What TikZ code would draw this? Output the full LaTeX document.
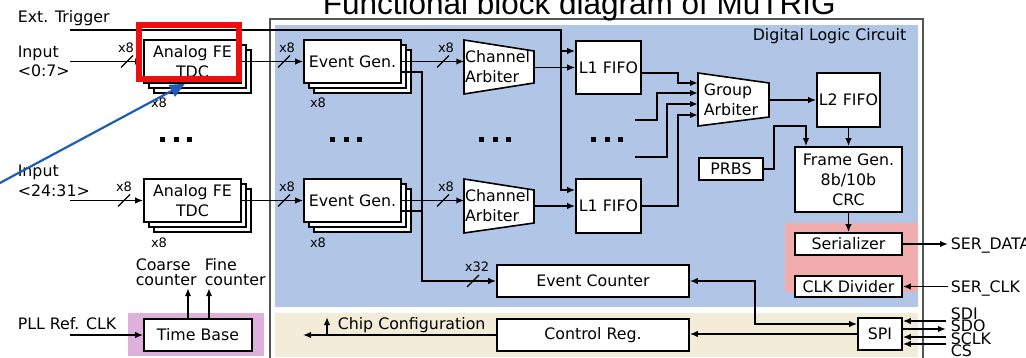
\documentclass[tikz,border=0pt]{standalone}
\usepackage{fontspec}
\setmainfont{DejaVu Sans}
\newfontfamily\titlefont{Liberation Sans}
\usetikzlibrary{arrows.meta}
\definecolor{dlcblue}{RGB}{177,197,230}
\definecolor{cfgbeige}{RGB}{242,236,217}
\definecolor{serpink}{RGB}{241,173,173}
\definecolor{tbpurple}{RGB}{222,177,218}
\definecolor{hlred}{RGB}{238,16,16}
\definecolor{annblue}{RGB}{30,92,184}
\definecolor{framegray}{RGB}{85,85,85}
\tikzset{
  box/.style={draw, fill=white, inner sep=0pt, align=center},
  stk/.style={box, minimum width=97pt, minimum height=43pt},
  lbl/.style={anchor=base west, inner sep=0pt},
  sig/.style={anchor=west, inner sep=2pt, text height=11.5pt, text depth=0pt},
  mult/.style={font=\fontsize{13}{15}\selectfont, inner sep=0pt, anchor=base},
  slash/.style={line width=1.2pt},
  trap/.style={draw, fill=white, line join=miter},
}
\begin{document}
\begin{tikzpicture}[x=1pt,y=-1pt,line width=1.6pt,>={Latex[length=8pt,width=6.5pt]},font=\fontsize{15.8}{19.8}\selectfont]
\useasboundingbox (0,0) rectangle (1026,358);
\clip (0,0) rectangle (1026,358);
\fill[white] (0,0) rectangle (1026,358);
% regions
\draw[draw=framegray, line width=1.5pt, fill=white] (270,19) rectangle (923,364);
\fill[dlcblue] (275,25) rectangle (918,307);
\fill[cfgbeige] (275,313) rectangle (918,357);
\fill[serpink] (785,223) rectangle (918,292);
\fill[tbpurple] (128,313) rectangle (264,356);
\node[anchor=base east, inner sep=0pt] (dlc) at (907,41) {Digital Logic Circuit};

% stacked boxes
\node[stk] (afe1c) at (202.5,71.5) {};
\node[stk] (afe1b) at (197.5,66.5) {};
\node[stk] (afe1) at (192.5,61.5) {Analog FE\\TDC};
\node[stk] (afe2c) at (202.5,210.5) {};
\node[stk] (afe2b) at (197.5,205.5) {};
\node[stk] (afe2) at (192.5,200.5) {Analog FE\\TDC};
\node[stk] (eg1c) at (362.5,71.5) {};
\node[stk] (eg1b) at (357.5,66.5) {};
\node[stk] (eg1) at (352.5,61.5) {Event Gen.};
\node[stk] (eg2c) at (362.5,210.5) {};
\node[stk] (eg2b) at (357.5,205.5) {};
\node[stk] (eg2) at (352.5,200.5) {Event Gen.};

% trapezoids
\draw[trap] (464,40) -- (534,51) -- (534,83) -- (464,94) -- cycle;
\node[inner sep=0pt, align=left] (cha1) at (497.5,67) {Channel\\Arbiter};
\draw[trap] (464,179) -- (534,190) -- (534,223) -- (464,233) -- cycle;
\node[inner sep=0pt, align=left] (cha2) at (497.5,206) {Channel\\Arbiter};
\draw[trap] (698,73) -- (769,83) -- (769,117) -- (698,126) -- cycle;
\node[inner sep=0pt, align=left] (ga) at (731,99.5) {Group\\Arbiter};
\coordinate (cha1e) at (534,67.5);
\coordinate (cha2e) at (534,206);
\coordinate (gain1) at (698,83);
\coordinate (gain2) at (698,93);
\coordinate (gain3) at (698,104);
\coordinate (gain4) at (698,115);
\coordinate (gaout) at (769,100);

% other boxes
\node[box, minimum width=65pt, minimum height=53pt] (l1a) at (608.5,67.5) {L1 FIFO};
\node[box, minimum width=65pt, minimum height=54pt] (l1b) at (608.5,206) {L1 FIFO};
\node[box, minimum width=63pt, minimum height=54pt] (l2) at (848.5,100) {L2 FIFO};
\node[box, minimum width=64pt, minimum height=22pt] (prbs) at (731,169) {PRBS};
\node[box, minimum width=107pt, minimum height=65pt] (fg) at (848.5,179.5) {Frame Gen.\\8b/10b\\CRC};
\node[box, minimum width=107pt, minimum height=22pt] (ser) at (848.5,244) {Serializer};
\node[box, minimum width=107pt, minimum height=21pt] (clk) at (848.5,286.5) {CLK Divider};
\node[box, minimum width=44pt, minimum height=32pt] (spi) at (880,334) {SPI};
\node[box, minimum width=192pt, minimum height=32pt] (evc) at (593,281) {Event Counter};
\node[box, minimum width=192pt, minimum height=32pt] (creg) at (593,335) {Control Reg.};
\node[box, minimum width=108pt, minimum height=32pt] (tb) at (198,335) {Time Base};

% labels
\node[lbl] (ext) at (17,23) {Ext. Trigger};
\node[lbl] (inp1) at (17,58) {Input};
\node[lbl] (inp1r) at (17,77) {<0:7>};
\node[lbl] (inp2) at (17,177) {Input};
\node[lbl] (inp2r) at (17,197) {<24:31>};
\node[lbl] (pllt) at (17,329) {PLL Ref. CLK};
\node[lbl] (coarse1) at (135,271) {Coarse};
\node[lbl] (coarse2) at (135,286) {counter};
\node[lbl] (fine1) at (204,271) {Fine};
\node[lbl] (fine2) at (204,286) {counter};
\node[lbl] (chipcfg) at (337,330) {Chip Configuration};
\node[sig] (serdata) at (948,244) {SER\_DATA};
\node[sig] (serclk) at (948,286.5) {SER\_CLK};
\node[sig] (sdil) at (948,313.5) {SDI};
\node[sig] (sdol) at (948,326) {SDO};
\node[sig] (sclkl) at (948,338.5) {SCLK};
\node[sig] (csl) at (948,351) {CS};

% multiplicity labels
\node[mult] (m1) at (126,52.5) {x8};
\node[mult] (m2) at (124,192) {x8};
\node[mult] (m3) at (287,52.5) {x8};
\node[mult] (m4) at (287,192) {x8};
\node[mult] (m5) at (446,52.5) {x8};
\node[mult] (m6) at (446,192) {x8};
\node[mult] (m7) at (159,108) {x8};
\node[mult] (m8) at (159,248) {x8};
\node[mult] (m9) at (318,108) {x8};
\node[mult] (m10) at (318,248) {x8};
\node[mult] (m11) at (477,271.5) {x32};

% dots
\foreach \cx in {176,346,495,607}{
  \foreach \dx in {-13.5,0,13.5}{
    \fill (\cx+\dx-2.5,137.5) rectangle ++(5,5);
  }
}

% coordinates
\coordinate (in1) at (70,61.5);
\coordinate (in2) at (70,200.5);
\coordinate (trig) at (70,30);
\coordinate (trigc) at (561,30);
\coordinate (cbus) at (422,281);
\coordinate (oth1) at (635,120);
\coordinate (oth2) at (635,157);
\coordinate (pll) at (70,335);
\coordinate (cfg) at (303,335);
\coordinate (cfgup) at (327,317);
\coordinate (sdi) at (946,321);
\coordinate (sdo) at (946,329);
\coordinate (sclk) at (946,337);
\coordinate (cs) at (946,344);

% connectors
\draw[->] (in1) -- (in1 -| afe1.west);
\draw[->] (in2) -- (in2 -| afe2.west);
\draw[->] (afe1.east) -- (eg1.west);
\draw[->] (afe2.east) -- (eg2.west);
\draw[->] (eg1.east) -- (eg1.east -| cha1.west);
\draw[->] (eg2.east) -- (eg2.east -| cha2.west);
\draw[->] (cha1e) -- (cha1e -| l1a.west);
\draw[->] (cha2e) -- (cha2e -| l1b.west);
\draw[->] (trig) -- (trigc) |- ([yshift=16.5pt]l1a.west);
\draw[->] (trigc) |- ([yshift=16pt]l1b.west);
\draw[->] ([yshift=-5.5pt]l1a.east) -- ++(36,0) |- (gain1);
\draw[->] (oth1) -- ++(22,0) |- (gain2);
\draw[->] (oth2) -- ++(32,0) |- (gain3);
\draw[->] (l1b.east) -- ++(36,0) |- (gain4);
\draw[->] (gaout) -- (gaout -| l2.west);
\draw[->] (l2.south) -- (fg.north);
\draw[->] (prbs.east) -- ++(10,0) -- ++(0,-43) -| ([xshift=-42.5pt]fg.north);
\draw[->] (fg.south) -- (ser.north);
\draw[->] (ser.east) -- (serdata.west);
\draw[<-] (clk.east) -- (serclk.west);
\draw[<-] (spi.east |- sdi) -- (sdi);
\draw[->] (spi.east |- sdo) -- (sdo);
\draw[<-] (spi.east |- sclk) -- (sclk);
\draw[<-] (spi.east |- cs) -- (cs);
\draw[<->] (evc.east) -- ++(65,0) |- ([yshift=10pt]spi.west);
\draw[->] (spi.west) -- (spi.west -| creg.east);
\draw[->] (creg.west) -- (cfg |- creg.west);
\draw[->] (cfgup |- creg.west) -- (cfgup);
\draw[->] ([yshift=-10.5pt]eg1.east) -| (cbus) -- (evc.west);
\draw ([yshift=-10.5pt]eg2.east) -- ([yshift=-10.5pt]eg2.east -| cbus);
\draw[->] (pll) -- (tb.west);
\draw[->] ([xshift=-10pt]tb.north) -- ++(0,-30);
\draw[->] ([xshift=11pt]tb.north) -- ++(0,-30);

% slashes
\foreach \sx/\sy in {127/61.5,124/200.5,284/61.5,284/200.5,443/61.5,443/200.5,473/281}{
  \draw[slash] (\sx,\sy) ++(-6,6) -- ++(12,-12);
}

% annotation
\node[draw=hlred, line width=5.5pt, minimum width=100pt, minimum height=54pt, inner sep=0pt] (hl) at (189,52) {};
\coordinate (bstart) at (-2,184);
\draw[annblue, line width=2.2pt, -{Triangle[length=15pt,width=13pt]}] (bstart) -- ([xshift=-4pt,yshift=-2pt]hl.south);

% title
\node[anchor=base west, inner sep=0pt, font=\titlefont\fontsize{31.5}{36}\selectfont] (title) at (322,15) {Functional block diagram of MuTRIG};
\end{tikzpicture}
\end{document}
